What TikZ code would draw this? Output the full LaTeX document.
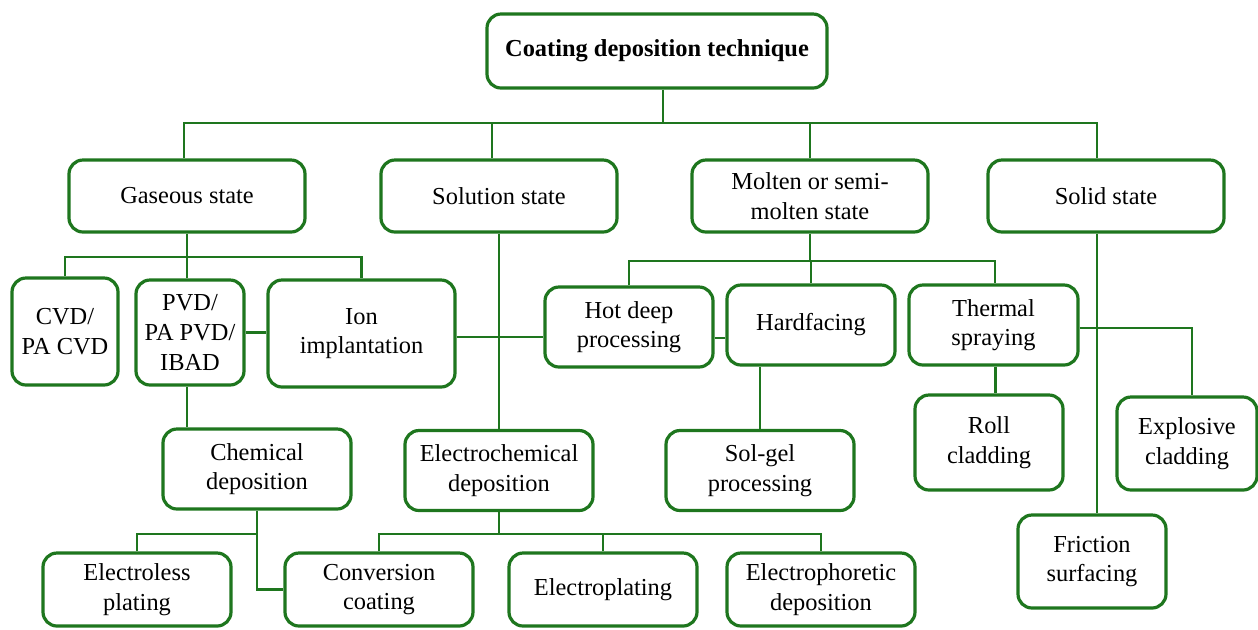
\documentclass[tikz,border=0pt]{standalone}
\usepackage{fontspec}
\setmainfont{Liberation Serif}
\usetikzlibrary{positioning}
\definecolor{leaf}{RGB}{30,118,30}

\begin{document}
\begin{tikzpicture}[
    x=0.5pt, y=-0.5pt,
    box/.style={
      rectangle,
      rounded corners=7pt,
      draw=leaf,
      line width=1.6pt,
      fill=white,
      align=center,
      inner sep=1pt,
      font=\fontsize{12.2}{14.8}\selectfont
    },
    statebox/.style={box, minimum width=118pt, minimum height=36pt},
    midbox/.style={box, minimum width=94pt, minimum height=40pt},
    leafbox/.style={box, minimum width=94pt, minimum height=36.5pt},
    link/.style={draw=leaf, line width=1.1pt}
  ]
    \useasboundingbox (0,0) rectangle (1258,629);

    % top level
    \node[box, minimum width=170pt, minimum height=37pt, font=\fontsize{12.2}{14.8}\selectfont\bfseries] (root) at (657,51) {Coating deposition technique};

    \node[statebox] (gas) at (187,196) {Gaseous state};
    \node[statebox] (sol) at (499,196) {Solution state};
    \node[statebox] (mol) at (810,196) {Molten or semi-\\molten state};
    \node[statebox] (solid) at (1106,196) {Solid state};

    % second level
    \node[box, minimum width=53pt, minimum height=53.5pt] (cvd) at (65,331.5) {CVD/\\PA CVD};
    \node[box, minimum width=54pt, minimum height=52.5pt] (pvd) at (190,332.5) {PVD/\\PA PVD/\\IBAD};
    \node[box, minimum width=93.5pt, minimum height=53.5pt] (ion) at (361.5,333.5) {Ion\\implantation};
    \node[box, minimum width=84pt, minimum height=40pt] (hot) at (629,327) {Hot deep\\processing};
    \node[box, minimum width=84pt, minimum height=40pt] (hard) at (811,325) {Hardfacing};
    \node[box, minimum width=84.5pt, minimum height=40pt] (therm) at (993.5,325) {Thermal\\spraying};
    \node[box, minimum width=74pt, minimum height=47.5pt] (roll) at (989,442.5) {Roll\\cladding};
    \node[box, minimum width=70pt, minimum height=46.5pt] (expl) at (1187,443.5) {Explosive\\cladding};
    \node[box, minimum width=74pt, minimum height=46.5pt] (fric) at (1092,561.5) {Friction\\surfacing};

    % third level
    \node[midbox] (chem) at (257,469) {Chemical\\deposition};
    \node[midbox] (echem) at (499,470.5) {Electrochemical\\deposition};
    \node[midbox] (solgel) at (760,470.5) {Sol-gel\\processing};

    \node[leafbox] (eless) at (137,589.5) {Electroless\\plating};
    \node[leafbox] (conv) at (379,589.5) {Conversion\\coating};
    \node[leafbox] (eplat) at (603,589.5) {Electroplating};
    \node[leafbox] (ephor) at (821,589.5) {Electrophoretic\\deposition};

    % main bus
    \draw[link] ([xshift=3pt]root.south) -- ++(0,33) coordinate (top bus);
    \draw[link] ([xshift=-1.5pt]gas.north) |- (top bus) -| ([xshift=-4.5pt]solid.north);
    \draw[link] ([xshift=-3.5pt]sol.north) |- (top bus);
    \draw[link] (mol.north) |- (top bus);

    % gaseous state
    \draw[link] (gas.south) -- ++(0,23) coordinate (gas bus);
    \draw[link] (cvd.north) |- (gas bus) -| (ion.north);
    \draw[link] ([xshift=-1.5pt]pvd.north) |- (gas bus);
    \draw[link] (pvd.east) -- (pvd.east -| ion.west);
    \draw[link] ([xshift=-1.5pt]pvd.south) -- ([xshift=-1.5pt]pvd.south |- chem.north);
    \draw[link] ([yshift=-1.75pt]ion.east) -- ([yshift=-1.75pt]ion.east -| hot.west);

    % solution state
    \draw[link] (sol.south) -- (echem.north);

    % molten state
    \draw[link] (mol.south) -- ++(0,27) coordinate (mol bus);
    \draw[link] (hot.north) |- (mol bus) -| ([xshift=0.75pt]therm.north);
    \draw[link] (hard.north) |- (mol bus);
    \draw[link] ([yshift=-5.5pt]hot.east) -- ([yshift=-5.5pt]hot.east -| hard.west);
    \draw[link] (solgel.north) -- (solgel.north |- hard.south);
    \draw[link] ([xshift=1pt]therm.south) -- ([xshift=1pt]therm.south |- roll.north);
    \draw[link] ([yshift=-1.5pt]therm.east) -| ([xshift=2.5pt]expl.north);

    % solid state
    \draw[link] ([xshift=-4.5pt]solid.south) -- ([xshift=-4.5pt]solid.south |- fric.north);

    % chemical deposition
    \draw[link] (chem.south) -- ++(0,23) coordinate (chem bus) -| (eless.north);
    \draw[link] (chem bus) |- (conv.west);

    % electrochemical deposition
    \draw[link] (echem.south) -- ++(0,22) coordinate (echem bus);
    \draw[link] (conv.north) |- (echem bus) -| (ephor.north);
    \draw[link] (eplat.north) -- (eplat.north |- echem bus);
  \end{tikzpicture}
\end{document}
